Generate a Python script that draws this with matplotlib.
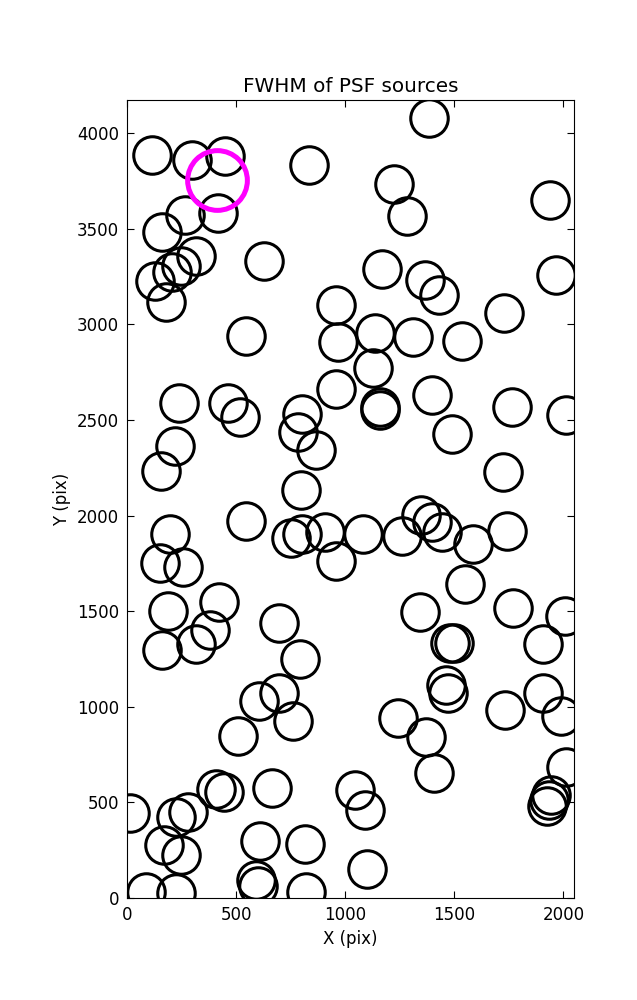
import matplotlib
matplotlib.use("Agg")
import matplotlib.pyplot as plt

# source centres (pix)
x_src = [113, 296, 448, 265, 415, 159, 316, 245, 205, 125, 178, 627, 833, 544,
         955, 967, 1381, 1223, 1284, 1938, 1168, 1363, 1429, 1968, 1729, 1134,
         1310, 1534, 1127, 235, 463, 517, 220, 156, 799, 781, 863, 959, 796,
         544, 194, 151, 255, 749, 799, 906, 959, 186, 418, 380, 316, 697, 159,
         1157, 1160, 1398, 1764, 2011, 1490, 1722, 1348, 1397, 1443, 1584, 1741,
         1081, 1261, 1549, 1343, 1767, 2007, 791, 605, 697, 758, 509, 14, 224,
         278, 407, 445, 662, 166, 247, 608, 814, 590, 600, 87, 224, 819, 1478,
         1500, 1904, 1459, 1470, 1241, 1371, 1406, 1734, 1904, 1988, 2011, 1945,
         1935, 1925, 1046, 1089, 1101]
y_src = [3885, 3859, 3880, 3571, 3583, 3481, 3357, 3305, 3275, 3225, 3115, 3331,
         3833, 2940, 3104, 2909, 4080, 3733, 3568, 3653, 3292, 3235, 3153, 3258,
         3062, 2956, 2935, 2912, 2770, 2587, 2587, 2517, 2363, 2233, 2534, 2438,
         2342, 2661, 2133, 1971, 1902, 1750, 1733, 1881, 1902, 1915, 1762, 1501,
         1546, 1401, 1330, 1441, 1297, 2569, 2551, 2630, 2569, 2525, 2426, 2229,
         2003, 1968, 1915, 1851, 1921, 1902, 1895, 1645, 1497, 1515, 1476, 1250,
         1032, 1070, 925, 847, 446, 425, 451, 570, 555, 574, 277, 225, 300, 281,
         95, 62, 33, 25, 33, 1332, 1332, 1327, 1114, 1070, 943, 843, 655, 983,
         1070, 952, 687, 540, 515, 480, 565, 460, 152]

# highlighted source
x_sel = [410]
y_sel = [3758]

x_ticks = [0, 500, 1000, 1500, 2000]
y_ticks = [0, 500, 1000, 1500, 2000, 2500, 3000, 3500, 4000]

fig = plt.figure(figsize=(6.37, 10), dpi=100)
ax = fig.add_axes([0.2, 0.102, 0.701, 0.798])

ax.plot(x_src, y_src, "o", mfc="none", mec="black", ms=27, mew=2.2)
ax.plot(x_sel, y_sel, "o", mfc="none", mec="magenta", ms=43, mew=3.6)

ax.set_xlim(0, 2048)
ax.set_ylim(0, 4174)
ax.set_xticks(x_ticks)
ax.set_yticks(y_ticks)
ax.tick_params(direction="in", top=True, right=True, length=5, width=0.8,
               labelsize=12, pad=6)
ax.set_xlabel("X (pix)", fontsize=12)
ax.set_ylabel("Y (pix)", fontsize=12)
ax.set_title("FWHM of PSF sources", fontsize=14.4, pad=6)

fig.savefig("out.png", dpi=100, facecolor="white")
